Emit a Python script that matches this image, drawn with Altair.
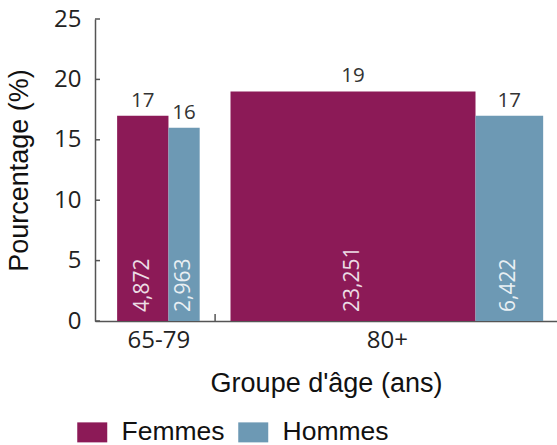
import altair as alt
import pandas as pd

# Data
groups = ["65-79", "65-79", "80+", "80+"]
sexes = ["Femmes", "Hommes", "Femmes", "Hommes"]
pcts = [17, 16, 19, 17]
counts = [4872, 2963, 23251, 6422]

sex_order = ["Femmes", "Hommes"]
colors = ["#8c1a57", "#6d99b4"]
y_ticks = [0, 5, 10, 15, 20, 25]

# Layout constants
W, H = 462, 302
FONT_TEXT = "Liberation Sans"
FONT_NUM = "Open Sans"
AXIS_COLOR = "#555555"

# Variable-width bars: every bar is as wide as its count
total = sum(counts)
lead_gap = 0.056 * total
group_gap = 0.078 * total
trail_gap = 0.035 * total

rows = []
spans = {}
cursor = lead_gap
for i, (g, s, p, n) in enumerate(zip(groups, sexes, pcts, counts)):
    if i > 0 and g != groups[i - 1]:
        cursor += group_gap
    x0, x1 = cursor, cursor + n
    rows.append(dict(groupe=g, sexe=s, pct=p, n=n, x0=x0, x1=x1,
                     xm=(x0 + x1) / 2, n_label=f"{n:,}"))
    lo, hi = spans.get(g, (x0, x1))
    spans[g] = (min(lo, x0), max(hi, x1))
    cursor = x1
x_max = cursor + trail_gap
df = pd.DataFrame(rows)

group_names = list(spans.keys())
centers = [(spans[g][0] + spans[g][1]) / 2 for g in group_names]
dividers = [(spans[a][1] + spans[b][0]) / 2 for a, b in zip(group_names, group_names[1:])]

# Axis label expression: map each centre back to its age group
label_expr = repr(group_names[-1])
for g, d in reversed(list(zip(group_names[:-1], dividers))):
    label_expr = f"datum.value < {d} ? {g!r} : ({label_expr})"

x_scale = alt.Scale(domain=[0, x_max], nice=False, zero=False)
y_scale = alt.Scale(domain=[0, 25], nice=False)

x_axis = alt.Axis(
    values=centers, labelExpr=label_expr, ticks=False, grid=False,
    title="Groupe d'âge (ans)", titleFont=FONT_TEXT, titleFontSize=27,
    titleFontWeight="normal", titleColor="#111", titlePadding=18,
    labelFont=FONT_NUM, labelFontSize=24, labelColor="#222", labelPadding=7,
    domainColor=AXIS_COLOR, domainWidth=1.5)
y_axis = alt.Axis(
    values=y_ticks, ticks=False, grid=False,
    title="Pourcentage (%)", titleFont=FONT_TEXT, titleFontSize=27,
    titleFontWeight="normal", titleColor="#111", titlePadding=20,
    labelFont=FONT_NUM, labelFontSize=24, labelColor="#222", labelPadding=14,
    domainColor=AXIS_COLOR, domainWidth=1.5)

base = alt.Chart(df)

bars = base.mark_bar().encode(
    x=alt.X("x0:Q", scale=x_scale, axis=x_axis),
    x2="x1:Q",
    y=alt.Y("pct:Q", scale=y_scale, axis=y_axis),
    y2=alt.datum(0),
    color=alt.Color("sexe:N", scale=alt.Scale(domain=sex_order, range=colors),
                    legend=alt.Legend(
                        orient="none", legendX=-16, legendY=400, direction="horizontal",
                        title=None, symbolType="M-1.5,-1H1.5V1H-1.5Z", symbolSize=400,
                        symbolStrokeWidth=0, symbolOpacity=1,
                        labelFont=FONT_TEXT, labelFontSize=26.5, labelColor="#111",
                        labelOffset=16, columnPadding=13, padding=0)),
)

top_labels = base.mark_text(font=FONT_NUM, fontSize=20.5, color="#333",
                            baseline="alphabetic", dy=-9).encode(
    x=alt.X("xm:Q", scale=x_scale),
    y=alt.Y("pct:Q", scale=y_scale),
    text="pct:Q",
)

count_labels = base.mark_text(font=FONT_NUM, fontSize=21, color="white", opacity=0.85,
                              angle=270, align="left", baseline="middle", dx=9).encode(
    x=alt.X("xm:Q", scale=x_scale),
    y=alt.datum(0, scale=y_scale),
    text="n_label:N",
)

# Inward tick marks on the y axis
y_tick_marks = alt.Chart(pd.DataFrame({"pct": y_ticks})).mark_rule(
    color=AXIS_COLOR, strokeWidth=1.5).encode(
    y=alt.Y("pct:Q", scale=y_scale),
    x=alt.value(0), x2=alt.value(5),
)

# Tick marking the boundary between age groups
x_tick_marks = alt.Chart(pd.DataFrame({"x0": dividers})).mark_rule(
    color=AXIS_COLOR, strokeWidth=1.5).encode(
    x=alt.X("x0:Q", scale=x_scale),
    y=alt.value(H), y2=alt.value(H - 7),
)

chart = alt.layer(bars, top_labels, count_labels, y_tick_marks, x_tick_marks).properties(
    width=W, height=H,
    background="white",
    autosize=alt.AutoSizeParams(type="none"),
    padding={"left": 95, "top": 19, "right": 0, "bottom": 124},
).configure_view(strokeWidth=0)

chart.save("out.html", embed_options={"renderer": "svg", "actions": False})
